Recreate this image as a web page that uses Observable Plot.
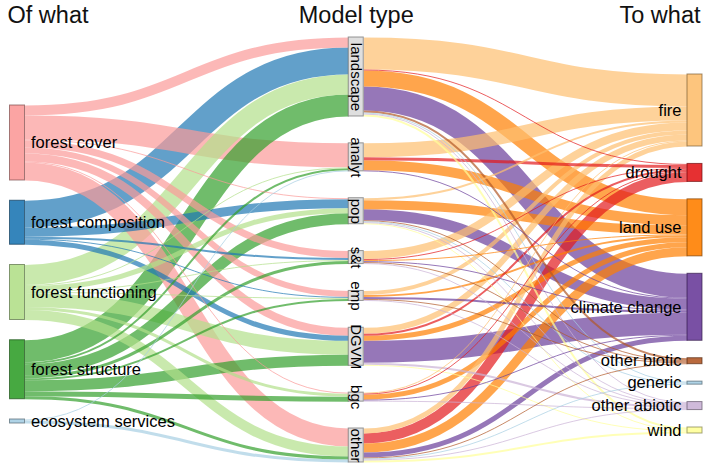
<!DOCTYPE html>
<html>
<head>
<meta charset="utf-8">
<script src="https://cdn.jsdelivr.net/npm/d3@7"></script>
<script src="https://cdn.jsdelivr.net/npm/@observablehq/plot@0.6"></script>
<style>
html, body { margin: 0; padding: 0; background: #fff; }
#chart svg { display: block; }
</style>
</head>
<body>
<div id="chart"></div>
<script>
// ---------------- data ----------------
const columnTitles = ["Of what", "Model type", "To what"];
const ofWhat = ["forest cover", "forest composition", "forest functioning", "forest structure", "ecosystem services"];
const modelType = ["landscape", "analyt", "pop", "s&t", "emp", "DGVM", "bgc", "other"];
const toWhat = ["fire", "drought", "land use", "climate change", "other biotic", "generic", "other abiotic", "wind"];

// studies: rows = ofWhat, columns = modelType
const ofWhatByModel = [
  [10, 24, 1, 7, 6, 8, 1, 18],
  [27, 0, 9, 2, 1, 5, 0, 0],
  [20, 1, 5, 1, 1, 14, 3, 10],
  [22, 2, 11, 3, 2, 11, 5, 3],
  [0, 1, 0, 0, 0, 0, 0, 3]
];
// studies: rows = modelType, columns = toWhat
const modelByToWhat = [
  [32, 1, 16, 24, 2, 1, 1, 2],
  [14, 3, 10, 1, 0, 0, 0, 0],
  [2, 0, 9, 11, 1, 1, 1, 1],
  [8, 1, 1, 1, 1, 0, 1, 0],
  [4, 0, 2, 2, 1, 0, 1, 0],
  [6, 2, 5, 22, 0, 0, 2, 1],
  [1, 1, 5, 1, 0, 0, 1, 0],
  [5, 10, 9, 5, 1, 1, 1, 2]
];

// ---------------- styles ----------------
const ofWhatColors = ["#fb9a99", "#1f78b4", "#b2df8a", "#33a02c", "#a6cee3"];
const toWhatColors = ["#fdbf6f", "#e31a1c", "#ff7f00", "#6a3d9a", "#b15928", "#a6cee3", "#cab2d6", "#ffff99"];
const modelColor = "#dcdcdc";
const FONT = "'Liberation Sans', Arial, Helvetica, sans-serif";

// ---------------- layout (simple sankey) ----------------
const W = 709, H = 464;
const nodeW = 15;
const marginL = 9.5, marginR = 7;
const columnExtent = [[105, 423], [37, 462], [74, 433]]; // vertical room of each column
const ky = 1; // px per study

const columns = [ofWhat, modelType, toWhat];
const nodes = [];
const colNodes = columns.map((names, c) => names.map((name, i) => {
  const color = c === 0 ? ofWhatColors[i] : c === 2 ? toWhatColors[i] : modelColor;
  const n = {name, col: c, idx: i, color, sourceLinks: [], targetLinks: []};
  nodes.push(n);
  return n;
}));

const links = [];
ofWhatByModel.forEach((row, i) => row.forEach((v, j) => {
  if (v > 0) links.push({source: colNodes[0][i], target: colNodes[1][j], value: v, color: ofWhatColors[i]});
}));
modelByToWhat.forEach((row, i) => row.forEach((v, j) => {
  if (v > 0) links.push({source: colNodes[1][i], target: colNodes[2][j], value: v, color: toWhatColors[j]});
}));
links.forEach(l => { l.source.sourceLinks.push(l); l.target.targetLinks.push(l); });

nodes.forEach(n => {
  n.value = Math.max(d3.sum(n.sourceLinks, l => l.value), d3.sum(n.targetLinks, l => l.value));
});

const colStep = (W - marginR - nodeW - marginL) / (columns.length - 1);
colNodes.forEach((list, c) => {
  const [top, bottom] = columnExtent[c];
  const total = d3.sum(list, n => n.value * ky);
  const gap = list.length > 1 ? (bottom - top - total) / (list.length - 1) : 0;
  let y = top;
  list.forEach(n => {
    n.x0 = marginL + c * colStep;
    n.x1 = n.x0 + nodeW;
    n.y0 = y;
    n.y1 = y + n.value * ky;
    y = n.y1 + gap;
  });
});

nodes.forEach(n => {
  n.sourceLinks.sort((a, b) => a.target.y0 - b.target.y0);
  n.targetLinks.sort((a, b) => a.source.y0 - b.source.y0);
  let sy = 0, ty = 0;
  n.sourceLinks.forEach(l => { l.width = l.value * ky; l.ys = n.y0 + sy + l.width / 2; sy += l.width; });
  n.targetLinks.forEach(l => { l.width = l.value * ky; l.yt = n.y0 + ty + l.width / 2; ty += l.width; });
});
links.forEach(l => { l.xs = l.source.x1; l.xt = l.target.x0; });
const drawLinks = links.slice().sort((a, b) => b.width - a.width);

nodes.forEach(n => {
  n.stroke = n.col === 1 ? "#6e6e6e" : d3.rgb(n.color).darker(2).formatHex();
  n.cy = (n.y0 + n.y1) / 2;
  n.cx = (n.x0 + n.x1) / 2;
});

const titles = columnTitles.map((t, c) => ({
  text: t,
  x: c === 0 ? colNodes[0][0].x0 - 2.5 : c === 1 ? colNodes[1][0].cx : colNodes[2][0].x1 - 2,
  y: 22
}));

const chart = Plot.plot({
  width: W,
  height: H,
  margin: 0,
  x: {domain: [0, W], range: [0, W], axis: null},
  y: {domain: [0, H], range: [0, H], axis: null},
  color: {type: "identity"},
  style: {fontFamily: FONT, background: "#fff"},
  marks: [
    Plot.link(drawLinks, {
      x1: "xs", y1: "ys", x2: "xt", y2: "yt",
      curve: "bump-x",
      stroke: "color",
      strokeWidth: "width",
      strokeOpacity: 0.7
    }),
    Plot.rect(nodes, {
      x1: "x0", x2: "x1", y1: "y0", y2: "y1",
      fill: "color", fillOpacity: 0.9,
      stroke: "stroke", strokeOpacity: 0.7, strokeWidth: 1
    }),
    Plot.text(colNodes[0], {x: d => d.x1 + 6, y: "cy", text: "name", textAnchor: "start", fontSize: 16.5, fill: "#000"}),
    Plot.text(colNodes[2], {x: d => d.x0 - 6, y: "cy", text: "name", textAnchor: "end", fontSize: 16.5, fill: "#000"}),
    Plot.text(colNodes[1], {x: "cx", y: "cy", text: "name", rotate: 90, textAnchor: "middle", fontSize: 15, fill: "#000"}),
    Plot.text([titles[0]], {x: "x", y: "y", text: "text", textAnchor: "start", lineAnchor: "bottom", fontSize: 23.5, fill: "#111"}),
    Plot.text([titles[1]], {x: "x", y: "y", text: "text", textAnchor: "middle", lineAnchor: "bottom", fontSize: 23.5, fill: "#111"}),
    Plot.text([titles[2]], {x: "x", y: "y", text: "text", textAnchor: "end", lineAnchor: "bottom", fontSize: 23.5, fill: "#111"})
  ]
});
document.getElementById("chart").appendChild(chart);
</script>
</body>
</html>
